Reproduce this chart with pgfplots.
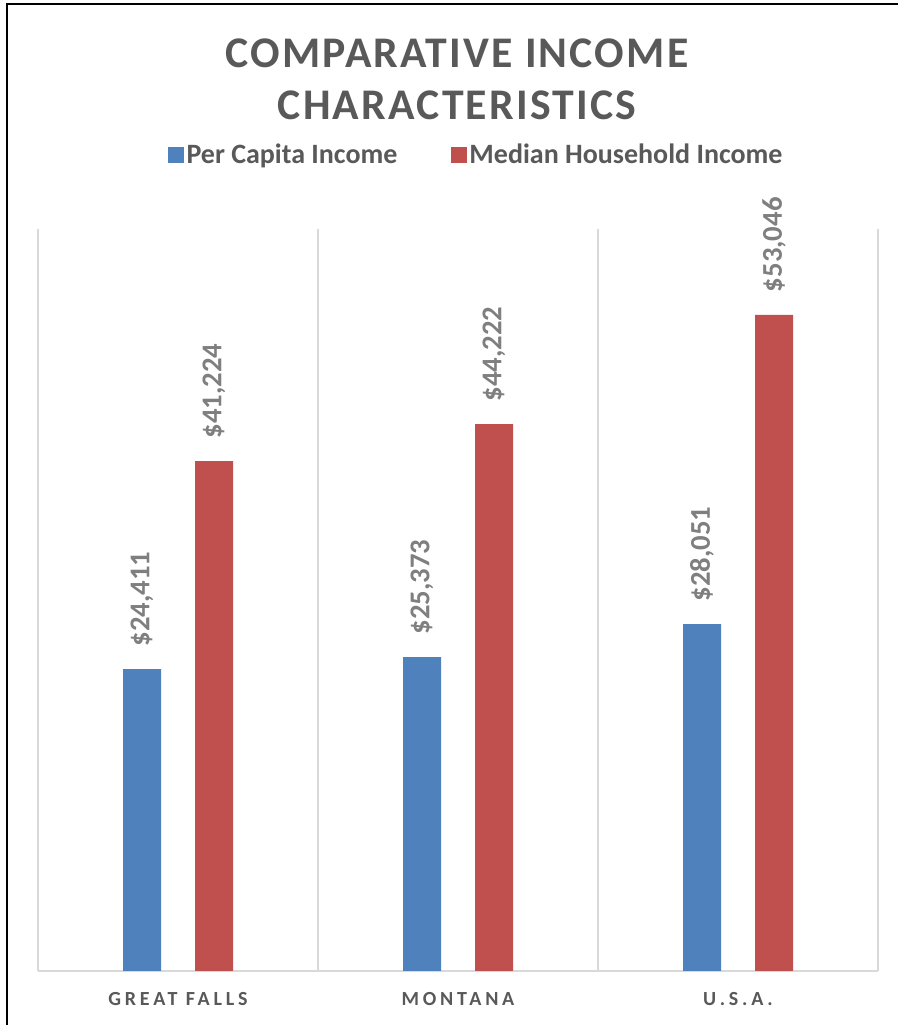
\documentclass[border=0pt]{standalone}
\usepackage{pgfplots}
\pgfplotsset{compat=1.18}
\usepackage{fontspec}
\setmainfont{Carlito}
\newfontfamily\titlefont[LetterSpace=5]{Carlito}
\newfontfamily\catfont[LetterSpace=19]{Carlito}
\definecolor{cblue}{HTML}{4F81BD}
\definecolor{cred}{HTML}{C0504D}
\definecolor{ctext}{HTML}{595959}
\definecolor{clabel}{HTML}{7F7F7F}
\definecolor{cgrid}{HTML}{D9D9D9}
\begin{document}
\begin{tikzpicture}[x=0.75pt,y=0.75pt]
\useasboundingbox (0,0) rectangle (898,1025);
\clip (0,0) rectangle (898,1025);
\fill[white] (0,0) rectangle (898,1025);
\draw[black,line width=2.2pt] (7,-20) -- (7,1021) -- (920,1021);
\coordinate (O) at (38,54);
\node[anchor=base,text=ctext,font=\titlefont\bfseries\fontsize{32.8}{36}\selectfont] at (457,957) {COMPARATIVE INCOME};
\node[anchor=base,text=ctext,font=\titlefont\bfseries\fontsize{32.8}{36}\selectfont] at (457,905) {CHARACTERISTICS};
\begin{axis}[
  at={(O)}, anchor=south west,
  scale only axis, width=630pt, height=556.5pt,
  xmin=-0.5, xmax=2.5, ymin=0, ymax=60000,
  ybar, bar width=28.5pt,
  axis y line=none,
  axis x line*=bottom,
  axis line style={draw=cgrid,line width=1.2pt},
  xtick={0,1,2},
  xticklabels={GREAT FALLS,MONTANA,U.S.A.},
  major tick length=0pt,
  minor xtick={-0.5,0.5,1.5,2.5},
  minor tick length=0pt,
  xminorgrids=true,
  minor grid style={draw=cgrid,line width=1.2pt},
  xticklabel style={anchor=base,yshift=-26.25pt,text=ctext,font=\catfont\bfseries\fontsize{15}{18}\selectfont},
  nodes near coords={\$\pgfmathprintnumber[fixed,precision=0,1000 sep={,},assume math mode=true]{\pgfplotspointmeta}},
  every node near coord/.append style={yshift=17pt,rotate=90,anchor=west,inner sep=0pt,text=clabel,font=\bfseries\fontsize{21.5}{24}\selectfont},
  legend columns=2,
  legend style={at={(0.522,1.0997)},anchor=center,draw=none,fill=none,
    font=\bfseries\fontsize{21}{24}\selectfont,text=ctext,
    /tikz/every even column/.append style={column sep=38pt}},
  legend image code/.code={\fill[#1] (0pt,-6pt) rectangle (12pt,6pt);},
]
\addplot[fill=cblue,draw=none,bar shift=-27pt] coordinates {(0,24411) (1,25373) (2,28051)};
\addplot[fill=cred,draw=none,bar shift=27pt] coordinates {(0,41224) (1,44222) (2,53046)};
\legend{Per Capita Income,Median Household Income}
\end{axis}
\end{tikzpicture}
\end{document}
